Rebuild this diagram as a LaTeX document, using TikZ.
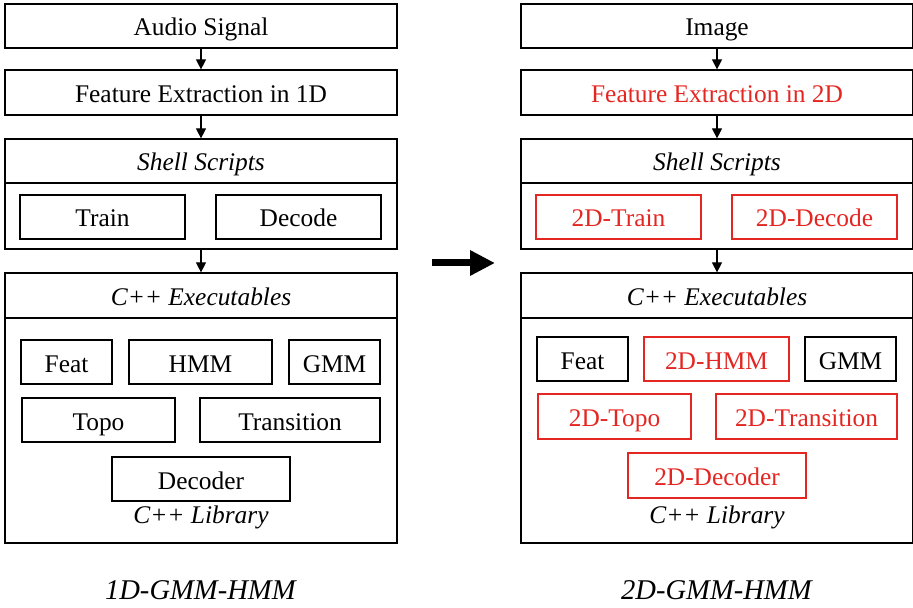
\documentclass[tikz,border=0pt]{standalone}
\usepackage{fontspec}
\setmainfont{Liberation Serif}
\usepackage{xcolor}
\usetikzlibrary{arrows, arrows.meta}
\definecolor{newred}{RGB}{228,38,34}

\begin{document}
\begin{tikzpicture}[x=0.5pt, y=-0.5pt, line width=0.6pt,
    font=\fontsize{12.7}{15}\selectfont,
    cell/.style={draw, inner sep=0pt, minimum height=22pt, text height=11pt, text depth=1pt},
    redcell/.style={cell, draw=newred, text=newred},
    arr/.style={-{Triangle[length=5pt, width=5pt]}}]
      \useasboundingbox (0,0) rectangle (913,608);

      \node[cell, minimum width=196pt] (audio) at (201, 26) {Audio Signal};
      \node[cell, minimum width=196pt, minimum height=22.5pt] (featl) at (201, 92.5) {Feature Extraction in 1D};
      \node[cell, minimum width=196pt, minimum height=55pt] (shelll) at (201, 194) {};
      \node[cell, minimum width=196pt] (shelltl) at (201, 161) {\textit{Shell Scripts}};
      \node[cell, minimum width=82.5pt] (trainl) at (102.5, 217) {Train};
      \node[cell, minimum width=82.5pt] (decodel) at (298.5, 217) {Decode};
      \node[cell, minimum width=196pt, minimum height=135pt] (exel) at (201, 408) {};
      \node[cell, minimum width=196pt, minimum height=22.5pt] (exetl) at (201, 295.5) {\textit{C++ Executables}};
      \node[cell, minimum width=45.5pt] (featcl) at (66.5, 362) {Feat};
      \node[cell, minimum width=71.5pt] (hmml) at (200.5, 362) {HMM};
      \node[cell, minimum width=45.5pt] (gmml) at (334.5, 362) {GMM};
      \node[cell, minimum width=76.5pt] (topol) at (98.5, 420) {Topo};
      \node[cell, minimum width=90pt] (transl) at (290, 420) {Transition};
      \node[cell, minimum width=89pt] (decoderl) at (201, 479) {Decoder};
      \node (libl) at (201, 517) {\textit{C++ Library}};
      \node[font=\fontsize{14.3}{17}\selectfont] (capl) at (201, 590) {\textit{1D-GMM-HMM}};

      \node[cell, minimum width=196pt] (image) at (717, 26) {Image};
      \node[redcell, draw=black, minimum width=196pt, minimum height=22.5pt] (featr) at (717, 92.5) {Feature Extraction in 2D};
      \node[cell, minimum width=196pt, minimum height=55pt] (shellr) at (717, 194) {};
      \node[cell, minimum width=196pt] (shelltr) at (717, 161) {\textit{Shell Scripts}};
      \node[redcell, minimum width=82.5pt] (trainr) at (618.5, 217) {2D-Train};
      \node[redcell, minimum width=82.5pt] (decoder) at (814.5, 217) {2D-Decode};
      \node[cell, minimum width=196pt, minimum height=135pt] (exer) at (717, 408) {};
      \node[cell, minimum width=196pt, minimum height=22.5pt] (exetr) at (717, 295.5) {\textit{C++ Executables}};
      \node[cell, minimum width=45.5pt] (featcr) at (582.5, 359) {Feat};
      \node[redcell, minimum width=72.5pt] (hmmr) at (716.5, 359) {2D-HMM};
      \node[cell, minimum width=45.5pt] (gmmr) at (850.5, 359) {GMM};
      \node[redcell, minimum width=76.5pt, minimum height=22.5pt] (topor) at (614.5, 416.5) {2D-Topo};
      \node[redcell, minimum width=90.5pt, minimum height=22.5pt] (transr) at (806.5, 416.5) {2D-Transition};
      \node[redcell, minimum width=89pt, minimum height=22.5pt] (decoderr) at (717, 475.5) {2D-Decoder};
      \node (libr) at (717, 517) {\textit{C++ Library}};
      \node[font=\fontsize{14.3}{17}\selectfont] (capr) at (717, 590) {\textit{2D-GMM-HMM}};

      \coordinate (from) at (432, 263);
      \coordinate (to) at (495, 263);

      \draw[arr] (audio) -- (featl);
      \draw[arr] (featl) -- (shelltl);
      \draw[arr] (shelll) -- (exetl);
      \draw[arr] (image) -- (featr);
      \draw[arr] (featr) -- (shelltr);
      \draw[arr] (shellr) -- (exetr);
      \draw[line width=3.5pt, -{Triangle[length=12.5pt, width=12pt]}] (from) -- (to);
    \end{tikzpicture}
\end{document}
